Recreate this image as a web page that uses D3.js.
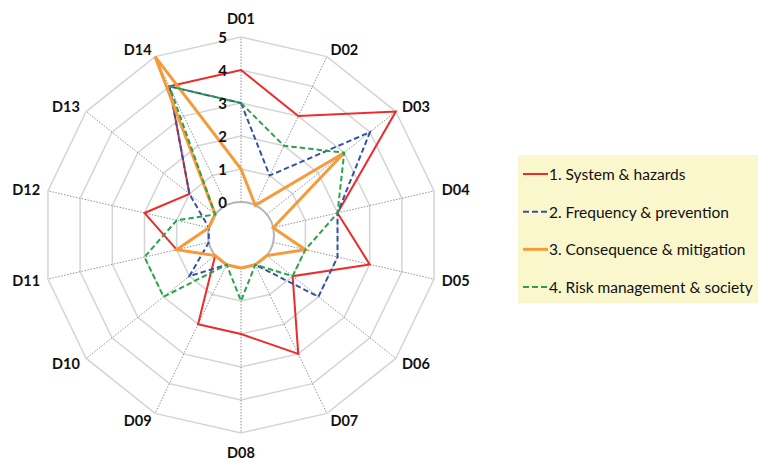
<!DOCTYPE html>
<html><head><meta charset="utf-8">
<script src="https://cdn.jsdelivr.net/npm/d3@7"></script>
<style>
html,body{margin:0;padding:0;background:#fff;}
svg{display:block;font-family:Lato,"Open Sans",sans-serif;}
</style></head>
<body>
<svg id="chart" width="758" height="461"></svg>
<script>
const categories = ["D01","D02","D03","D04","D05","D06","D07","D08","D09","D10","D11","D12","D13","D14"];
const tickValues = [0,1,2,3,4,5];
const seriesNames = ["1. System & hazards","2. Frequency & prevention","3. Consequence & mitigation","4. Risk management & society"];
const systemHazards      = [4,3,5,2,3,1,3,2,2,0,1,2,1,4];
const frequencyPrev      = [3,1,4,2,2,2,0,0,0,1,0,0,1,4];
const consequenceMitig   = [1,0,3,0,1,0,0,0,0,0,1,0,0,5];
const riskMgmtSociety    = [3,2,3,2,1,1,0,1,0,2,2,1,0,4];

const seriesData = [systemHazards, frequencyPrev, consequenceMitig, riskMgmtSociety];
const styles = [
  {color:"#ee2b2b", width:2, dash:null},
  {color:"#3552a8", width:2, dash:"5.5,3"},
  {color:"#f79a3c", width:3, dash:null},
  {color:"#27a54a", width:2, dash:"5.5,3"}
];

const svg = d3.select("#chart");
const cx = 241, cy = 235;
const r = d3.scaleLinear().domain([0,5]).range([33,198]);
const n = categories.length;
const ang = d3.scalePoint().domain(categories).range([0, 2*Math.PI*(n-1)/n]);
const px = (c,v) => cx + r(v)*Math.sin(ang(c));
const py = (c,v) => cy - r(v)*Math.cos(ang(c));

const g = svg.append("g");
// grid polygons
tickValues.filter(t=>t>0).forEach(t=>{
  g.append("polygon")
    .attr("points", categories.map(c=>[px(c,t),py(c,t)].join(",")).join(" "))
    .attr("fill","none").attr("stroke","#d4d4d4").attr("stroke-width",1.5);
});
// radial dotted axes
categories.forEach(c=>{
  g.append("line")
    .attr("x1",px(c,0)).attr("y1",py(c,0))
    .attr("x2",px(c,5)).attr("y2",py(c,5))
    .attr("stroke","#777").attr("stroke-width",0.8).attr("stroke-dasharray","1.5,1.5");
});
// inner circle
g.append("circle").attr("cx",cx).attr("cy",cy).attr("r",r(0))
  .attr("fill","#fff").attr("stroke","#b4b4b4").attr("stroke-width",2);

// series
const line = d3.line().x(d=>px(d.c,d.v)).y(d=>py(d.c,d.v)).curve(d3.curveLinearClosed);
seriesData.forEach((arr,i)=>{
  const pts = categories.map((c,j)=>({c, v:arr[j]}));
  g.append("path").attr("d", line(pts))
    .attr("fill","none").attr("stroke",styles[i].color)
    .attr("stroke-width",styles[i].width)
    .attr("stroke-linejoin","miter")
    .attr("stroke-dasharray",styles[i].dash);
});

// tick labels
tickValues.forEach(t=>{
  g.append("text").attr("x",227).attr("y",cy - r(t))
    .attr("text-anchor","end").attr("dominant-baseline","central")
    .attr("font-size",15).attr("font-weight","bold").attr("fill","#111")
    .text(t);
});

// category labels
categories.forEach(c=>{
  const a = ang(c), s = Math.sin(a), co = Math.cos(a);
  const ex = px(c,5), ey = py(c,5);
  let x, y, anchor;
  if (Math.abs(s) < 0.01) {
    x = ex; y = ey - 19*Math.sign(co); anchor = "middle";
  } else {
    x = ex + 8*s; y = ey - 8*co; anchor = s > 0 ? "start" : "end";
  }
  g.append("text").attr("x",x).attr("y",y)
    .attr("text-anchor",anchor).attr("dominant-baseline","central")
    .attr("font-size",14.5).attr("font-weight","bold").attr("fill","#111")
    .text(c);
});

// legend
const lg = svg.append("g");
lg.append("rect").attr("x",518).attr("y",155).attr("width",245).attr("height",148)
  .attr("fill","#faf7cd");
const ly = d3.scalePoint().domain(seriesNames).range([174,287]);
seriesNames.forEach((name,i)=>{
  lg.append("line").attr("x1",523).attr("x2",548)
    .attr("y1",ly(name)).attr("y2",ly(name))
    .attr("stroke",styles[i].color).attr("stroke-width",styles[i].width)
    .attr("stroke-dasharray",styles[i].dash ? "6,3" : null);
  lg.append("text").attr("x",549).attr("y",ly(name))
    .attr("dominant-baseline","central").attr("font-size",15.5).attr("fill","#111")
    .text(name);
});
</script>
</body></html>
